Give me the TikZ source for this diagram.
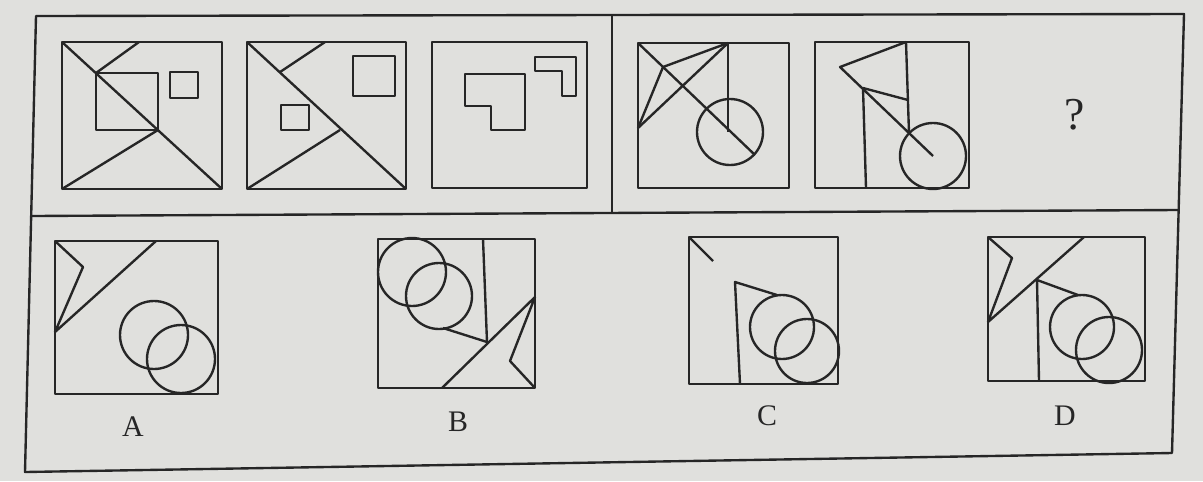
\documentclass[tikz,border=0pt]{standalone}
\usepackage{fontspec}
\setmainfont{Liberation Serif}
\definecolor{paper}{RGB}{224,224,221}
\definecolor{ink}{RGB}{38,38,38}

\begin{document}
\begin{tikzpicture}[x=0.02cm,y=-0.02cm]
                  \tikzset{fig/.style = {draw = ink,line width = 1.35pt,line join = round},
                           lab/.style = {text = ink,font = \fontsize{17}{20}\selectfont,inner sep = 0pt}}
                  \useasboundingbox[fill = paper] (0,0) rectangle (1203,481);
                  % frame
                  \coordinate (TL) at (36,16);
                  \coordinate (TR) at (1184,14);
                  \coordinate (BR) at (1172,453);
                  \coordinate (BL) at (25,472);
                  \coordinate (ML) at (31,216);
                  \coordinate (MR) at (1178,210);
                  \coordinate (MT) at (612,15);
                  \coordinate (MM) at (612,213);
                  \draw[fig] (TL) -- (TR) -- (BR) -- (BL) -- cycle;
                  \draw[fig] (ML) -- (MR);
                  \draw[fig] (MT) -- (MM);
                  % first row
                  \coordinate (A1) at (62,42);
                  \coordinate (C1) at (222,189);
                  \coordinate (D1) at (62,189);
                  \coordinate (G1) at (139,42);
                  \coordinate (E1) at (96,73);
                  \coordinate (F1) at (158,130);
                  \draw[fig] (A1) rectangle (C1);
                  \draw[fig] (A1) -- (C1);
                  \draw[fig] (G1) -- (E1);
                  \draw[fig] (E1) rectangle (F1);
                  \draw[fig] (D1) -- (F1);
                  \draw[fig] (170,72) rectangle (198,98);
                  \coordinate (A2) at (247,42);
                  \coordinate (C2) at (406,189);
                  \coordinate (D2) at (247,189);
                  \coordinate (G2) at (325,42);
                  \coordinate (E2) at (280,72);
                  \coordinate (F2) at (340,130);
                  \draw[fig] (A2) rectangle (C2);
                  \draw[fig] (A2) -- (C2);
                  \draw[fig] (G2) -- (E2);
                  \draw[fig] (D2) -- (F2);
                  \draw[fig] (353,56) rectangle (395,96);
                  \draw[fig] (281,105) rectangle (309,130);
                  \draw[fig] (432,42) rectangle (587,188);
                  \draw[fig] (465,74) -- (525,74) -- (525,130) -- (491,130) -- (491,106) -- (465,106) -- cycle;
                  \draw[fig] (535,57) -- (576,57) -- (576,96) -- (562,96) -- (562,71) -- (535,71) -- cycle;
                  \coordinate (A4) at (638,43);
                  \coordinate (C4) at (789,188);
                  \coordinate (T4) at (728,43);
                  \coordinate (P4) at (663,67);
                  \coordinate (L4) at (638,128);
                  \coordinate (O4) at (730,132);
                  \coordinate (Q4) at (755,155);
                  \draw[fig] (A4) rectangle (C4);
                  \draw[fig] (A4) -- (Q4);
                  \draw[fig] (T4) -- (L4);
                  \draw[fig] (T4) -- (P4) -- (L4);
                  \draw[fig] (T4) -- (T4 |- O4);
                  \draw[fig] (O4) circle [radius = 33];
                  \coordinate (A5) at (815,42);
                  \coordinate (C5) at (969,188);
                  \coordinate (T5) at (906,42);
                  \coordinate (H5) at (840,67);
                  \coordinate (Q5) at (863,88);
                  \coordinate (B5) at (866,188);
                  \coordinate (M5) at (908,100);
                  \coordinate (N5) at (909,133);
                  \coordinate (O5) at (933,156);
                  \draw[fig] (A5) rectangle (C5);
                  \draw[fig] (T5) -- (H5) -- (O5);
                  \draw[fig] (Q5) -- (B5);
                  \draw[fig] (Q5) -- (M5);
                  \draw[fig] (T5) -- (N5);
                  \draw[fig] (O5) circle [radius = 33];
                  \node[lab,font = \fontsize{26}{30}\selectfont] (ASK) at (1075,115) {?};
                  % options
                  \coordinate (A6) at (55,241);
                  \coordinate (C6) at (218,394);
                  \coordinate (K6) at (83,267);
                  \coordinate (L6) at (55,332);
                  \coordinate (G6) at (156,241);
                  \draw[fig] (A6) rectangle (C6);
                  \draw[fig] (A6) -- (K6) -- (L6) -- (G6);
                  \draw[fig] (154,335) circle [radius = 34];
                  \draw[fig] (181,359) circle [radius = 34];
                  \coordinate (A7) at (378,239);
                  \coordinate (C7) at (535,388);
                  \coordinate (G7) at (483,239);
                  \coordinate (R7) at (487,342);
                  \coordinate (S7) at (443,328);
                  \coordinate (U7) at (442,388);
                  \coordinate (W7) at (535,297);
                  \coordinate (V7) at (510,361);
                  \draw[fig] (A7) rectangle (C7);
                  \draw[fig] (412,272) circle [radius = 34];
                  \draw[fig] (439,296) circle [radius = 33];
                  \draw[fig] (G7) -- (R7);
                  \draw[fig] (S7) -- (R7);
                  \draw[fig] (U7) -- (W7) -- (V7) -- (C7);
                  \coordinate (A8) at (689,237);
                  \coordinate (C8) at (838,384);
                  \coordinate (K8) at (713,261);
                  \coordinate (B8) at (740,384);
                  \coordinate (T8) at (735,282);
                  \coordinate (S8) at (777,295);
                  \draw[fig] (A8) rectangle (C8);
                  \draw[fig] (A8) -- (K8);
                  \draw[fig] (B8) -- (T8) -- (S8);
                  \draw[fig] (782,327) circle [radius = 32];
                  \draw[fig] (807,351) circle [radius = 32];
                  \coordinate (A9) at (988,237);
                  \coordinate (C9) at (1145,381);
                  \coordinate (K9) at (1012,258);
                  \coordinate (L9) at (988,322);
                  \coordinate (G9) at (1084,237);
                  \coordinate (B9) at (1039,381);
                  \coordinate (T9) at (1037,280);
                  \coordinate (S9) at (1078,295);
                  \draw[fig] (A9) rectangle (C9);
                  \draw[fig] (A9) -- (K9) -- (L9) -- (G9);
                  \draw[fig] (B9) -- (T9) -- (S9);
                  \draw[fig] (1082,327) circle [radius = 32];
                  \draw[fig] (1109,350) circle [radius = 33];
                  \node[lab] (LA) at (133,427) {A};
                  \node[lab] (LB) at (458,422) {B};
                  \node[lab] (LC) at (767,416) {C};
                  \node[lab] (LD) at (1065,416) {D};
\end{tikzpicture}
\end{document}
